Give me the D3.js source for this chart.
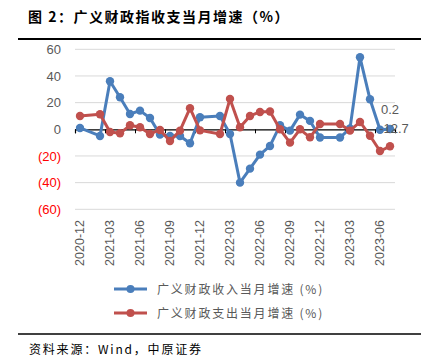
<!DOCTYPE html>
<html><head><meta charset="utf-8">
<script src="https://cdn.jsdelivr.net/npm/d3@7/dist/d3.min.js"></script>
<style>
html,body{margin:0;padding:0;background:#fff;}
svg{display:block;}
</style></head>
<body>
<svg id="c" width="434" height="360"></svg>
<script>
const categories = ["2020-12","2021-01","2021-02","2021-03","2021-04","2021-05","2021-06","2021-07","2021-08","2021-09","2021-10","2021-11","2021-12",
"2022-01","2022-02","2022-03","2022-04","2022-05","2022-06","2022-07","2022-08","2022-09","2022-10","2022-11","2022-12",
"2023-01","2023-02","2023-03","2023-04","2023-05","2023-06","2023-07"];
const revenue = [1,null,-5,36,24,11.5,14,8.5,-4,-5,-5,-10.5,9,
null,10,-3.5,-40,-29.5,-19,-12.5,3,-1,11,6.3,-6.2,
null,-6.2,0.7,54,22.5,-0.3,0.2];
const expenditure = [10,null,11.3,-2,-3,3,1.5,-3.5,-0.5,-8.8,-1,15.8,-0.8,
null,-3.5,22.8,1.5,10,13,13.3,0,-10,0,-6,4,
null,4,-1,5.5,-4.8,-16.3,-12.7];
const yTicks = [60,40,20,0,-20,-40,-60];
const seriesNames = ["广义财政收入当月增速 (%)","广义财政支出当月增速 (%)"];
const title = "图 2：广义财政指收支当月增速（%）";
const source = "资料来源：Wind，中原证券";
const colors = ["#4a7ebb","#c0504d"];

const svg = d3.select("#c");
const latin = "'Liberation Sans', Arial, sans-serif";
const cjk = "'Noto Sans CJK SC', 'Liberation Sans', sans-serif";

// title
svg.append("text").attr("x",28).attr("y",22).text(title)
  .attr("font-family",cjk).attr("font-size",14).attr("font-weight","bold")
  .attr("letter-spacing",1.5).attr("fill","#000");
svg.append("line").attr("x1",18).attr("x2",421).attr("y1",39).attr("y2",39)
  .attr("stroke","#000").attr("stroke-width",2);

const x = d3.scaleBand().domain(categories).range([75,395]).paddingInner(0).paddingOuter(0);
const y = d3.scaleLinear().domain([-60,60]).range([209.3,49.3]);
const cx = c => x(c) + x.bandwidth()/2;

// gridlines
svg.append("g").selectAll("line").data(yTicks.filter(v=>v!==0)).join("line")
  .attr("x1",75).attr("x2",395).attr("y1",d=>y(d)).attr("y2",d=>y(d))
  .attr("stroke","#d9d9d9").attr("stroke-width",1);

// y axis labels
const yAxis = d3.axisLeft(y).tickValues(yTicks).tickSize(0).tickPadding(14)
  .tickFormat(d => d<0 ? "("+Math.abs(d)+")" : String(d));
const yg = svg.append("g").attr("transform","translate(75,0)").call(yAxis);
yg.select(".domain").remove();
yg.selectAll("text").attr("font-family",latin).attr("font-size",13)
  .attr("fill",d => d<0 ? "#ff0000" : "#595959");

// zero axis line with ticks
const xAxis = d3.axisBottom(x).tickSizeOuter(0).tickSize(4)
  .tickValues(categories.filter((c,i)=>i%3===0)).tickFormat("");
const xg = svg.append("g").attr("transform",`translate(0,${y(0)})`).call(xAxis);
xg.select(".domain").attr("stroke","#000").attr("stroke-width",1.2);
xg.selectAll(".tick").attr("transform", d => `translate(${x(d)+0.5},0)`);
xg.selectAll(".tick line").attr("stroke","#000");

// x labels (low position)
svg.append("g").selectAll("text").data(categories.filter((c,i)=>i%3===0)).join("text")
  .attr("transform", d => `translate(${cx(d)},220) rotate(-90)`)
  .attr("text-anchor","end").attr("dy","0.35em")
  .attr("font-family",latin).attr("font-size",12.5).attr("fill","#595959")
  .text(d=>d);

// series
const line = d3.line().x(d=>cx(d.c)).y(d=>y(d.v));
const seriesData = [revenue, expenditure].map(vals =>
  categories.map((c,i)=>({c, v: vals[i]})).filter(d=>d.v!==null));
seriesData.forEach((pts,k)=>{
  const g = svg.append("g");
  g.append("path").datum(pts).attr("d",line).attr("fill","none")
    .attr("stroke",colors[k]).attr("stroke-width",3).attr("stroke-linejoin","round");
  g.selectAll("circle").data(pts).join("circle")
    .attr("cx",d=>cx(d.c)).attr("cy",d=>y(d.v)).attr("r",4.2).attr("fill",colors[k]);
});

// data labels for last points (on top)
const lastI = categories.length-1;
svg.append("text").attr("x",cx(categories[lastI])).attr("y",y(revenue[lastI])-15.5)
  .attr("text-anchor","middle").attr("font-family",latin).attr("font-size",13)
  .attr("fill","#595959").text(String(revenue[lastI]));
svg.append("text").attr("x",cx(categories[lastI])+4).attr("y",y(expenditure[lastI])-13.5)
  .attr("text-anchor","middle").attr("font-family",latin).attr("font-size",13)
  .attr("fill","#595959").text(String(expenditure[lastI]));

// legend
seriesNames.forEach((n,k)=>{
  const ly = 289 + k*24;
  svg.append("line").attr("x1",114).attr("x2",147).attr("y1",ly).attr("y2",ly)
    .attr("stroke",colors[k]).attr("stroke-width",3);
  svg.append("circle").attr("cx",130.5).attr("cy",ly).attr("r",4).attr("fill",colors[k]);
  svg.append("text").attr("x",157).attr("y",ly+4.5).text(n)
    .attr("font-family",cjk).attr("font-size",12).attr("letter-spacing",1.8)
    .attr("fill","#595959");
});

// bottom rule and source
svg.append("line").attr("x1",18).attr("x2",421).attr("y1",334).attr("y2",334)
  .attr("stroke","#000").attr("stroke-width",1.5);
svg.append("text").attr("x",29).attr("y",354).text(source)
  .attr("font-family",cjk).attr("font-size",12).attr("letter-spacing",1.8)
  .attr("fill","#000");
</script>
</body></html>
